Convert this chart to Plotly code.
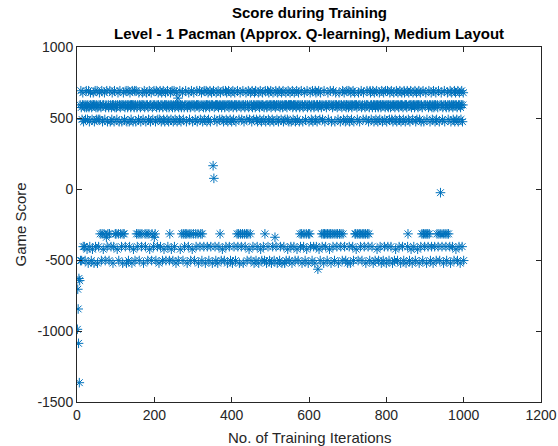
import plotly.graph_objects as go

# Score codes per training iteration (1..1000).
# Each character stands for one game score (see SCORE_OF_CODE).
SCORE_CODES = [
    "1234567BZA bZCBaYcBYb ZCBAbyCBzA bcYBaBZbCy BaBzcBAYbC",
    "BAzbCYBaCX BbZAXcByBX aCZbBxAYcX BbZXAcBYbC aBzBYcAbXB",
    "XbCyBaXZcB AbXBYcBzXa BXCbYBAzcB bAZBcYaBbC BzABcyBbAZ",
    "BcAXbYBXCa ZBXbcBYXaB CzBAbXYcBa XBZbCXAyBc BaZXbCBYAx",
    "BXcZAbBYCa BzbCAYBcaB ZbACyBcBaZ BbCAYBcbZX BaCyBAbZcB",
    "AYbCBzaBcB MZbBCAyBcb XBaZCXbYBX ABcXzbBYaX CBbZXABycB",
    "XaBZbCXYBA cBXzBbAYCX BaZXcBbYAC BzbABcYBaC ZBbAcYBaBz",
    "BPAQbCYBZa BcBzAbYBCX aBZbCyBAcB ZbBAYCaBzc BAbYBCZaBc",
    "BzAbCYBaBZ cBbXAYBXCz BaXbYCBXAz BcXbYBaXCZ BXAbyCBXaZ",
    "BcAbYBCzaB bAZCBYcBaz BbCAyBcZBa BYCbZXAcBz bBAYCaBZcB",
    "AbzBCYaBcZ BxbAYBCzaB cBAZbYBCaz BbAcYBzCBa ZBbCyABcZB",
    "aBYcBzAbCB YaBZcBbAyC BZaBcbXYBA XzBcbYXaBZ CBXyAbBzXc",
    "BXaYbCBZAc BYbBzACaYB cBWbAyBCZa BbXYCBXzAX cBYXbBZXaC",
    "BXyBAXzcBX bYABXZcBaX BYbXCzBaXB cYXBbZAXCB aYBcZbBACz",
    "BbAYcBzaBC bBYAZcBaXB XyBbCXZaBX cBYXAbZBXC aXYBbXzCBA",
    "XBYcXbZAaB CBYbAzBcaB ZbCBAyBcbZ BaCYBbzABc BZaBYCbABz",
    "cBAYbBZCaB bYACBzcBaB ZbCyBAcBZa BbYCABzcBa BYbCZAaBcB",
    "zBbAYXCaBZ cBAybBzCaB YBbAZcBaCB ybBAzCBaYc BXbZAXcBYX",
    "BaXzCBXYbA XBcZBaYbCB zAbBYcBaZC XBbYAXcZBR XaBYCbXzBA",
    "cXBYbZXaBC XbBYAzcBaB YbCBZAcBay BCbZAcBYaB zbCBAYcBaZ",
]

SCORE_OF_CODE = {
    "1": -988, "2": -706, "3": -845, "4": -1087, "5": -630, "6": -1364, "7": -645,
    "A": 692, "a": 678, "M": 640,
    "B": 592, "b": 574,
    "C": 490, "c": 474,
    "P": 164, "Q": 75, "R": -26,
    "X": -316, "x": -340,
    "Y": -406, "y": -424,
    "Z": -504, "z": -522,
    "W": -565,
}

X_TICKS = [0, 200, 400, 600, 800, 1000, 1200]
Y_TICKS = [-1500, -1000, -500, 0, 500, 1000]

TITLE_LINE_1 = "Score during Training"
TITLE_LINE_2 = "Level - 1 Pacman (Approx. Q-learning), Medium Layout"
X_LABEL = "No. of Training Iterations"
Y_LABEL = "Game Score"

codes = "".join(SCORE_CODES).replace(" ", "")
scores = [SCORE_OF_CODE[c] for c in codes]
iterations = list(range(1, len(scores) + 1))

BLUE = "#0072BD"
DARK = "#262626"
FONT = "Liberation Sans, Arial, sans-serif"

fig = go.Figure(
    go.Scatter(
        x=iterations,
        y=scores,
        mode="markers",
        marker=dict(symbol="asterisk-open", size=8, color=BLUE,
                    line=dict(color=BLUE, width=1)),
        showlegend=False,
        hoverinfo="x+y",
    )
)

axis_common = dict(
    showgrid=False,
    zeroline=False,
    showline=True,
    linecolor=DARK,
    linewidth=1,
    mirror="ticks",
    ticks="inside",
    ticklen=5,
    tickcolor=DARK,
    automargin=False,
    tickfont=dict(family=FONT, size=14, color=DARK),
)

fig.update_layout(
    width=558,
    height=446,
    margin=dict(l=77, r=17, t=47, b=44),
    paper_bgcolor="white",
    plot_bgcolor="white",
    font=dict(family=FONT, color=DARK),
    xaxis=dict(range=[0, 1200], tickvals=X_TICKS,
               ticktext=[str(v) for v in X_TICKS], **axis_common),
    yaxis=dict(range=[-1500, 1000], tickvals=Y_TICKS,
               ticktext=[str(v) for v in Y_TICKS], **axis_common),
    annotations=[
        dict(text="<b>" + TITLE_LINE_1 + "</b>", x=0.5, xref="paper",
             y=12, yref="paper", yanchor="middle", xanchor="center",
             showarrow=False, font=dict(family=FONT, size=15, color="black")),
        dict(text="<b>" + TITLE_LINE_2 + "</b>", x=0.5, xref="paper",
             y=1, yref="paper", yshift=14, yanchor="middle", xanchor="center",
             showarrow=False, font=dict(family=FONT, size=15, color="black")),
        dict(text=X_LABEL, x=0.5, xref="paper", y=0, yref="paper",
             yshift=-35, yanchor="middle", xanchor="center", showarrow=False,
             font=dict(family=FONT, size=15, color=DARK)),
        dict(text=Y_LABEL, x=0, xref="paper", xshift=-57, y=0.5, yref="paper",
             textangle=-90, xanchor="center", yanchor="middle", showarrow=False,
             font=dict(family=FONT, size=15, color=DARK)),
    ],
)
# place first title line above the second one (pixel shift from plot top)
fig.layout.annotations[0].update(y=1, yshift=35)

fig.write_html("out.html")
